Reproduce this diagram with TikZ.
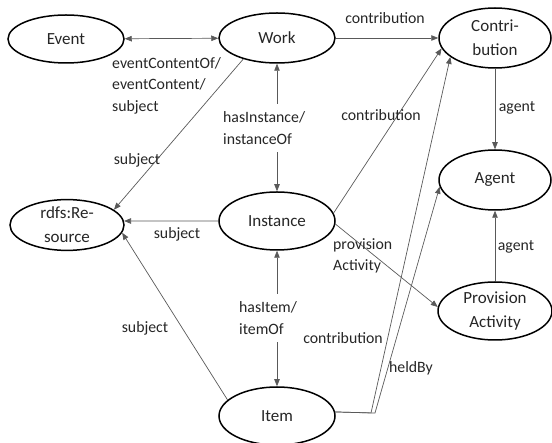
\documentclass[tikz,border=0pt]{standalone}
\usepackage{fontspec}
\setmainfont{Carlito}
\usetikzlibrary{shapes.geometric,arrows.meta}
\begin{document}
\begin{tikzpicture}[x=1pt,y=-1pt,
  ent/.style={draw, ellipse, line width=1.5pt, inner sep=0pt, align=center,
    font=\fontsize{17}{24}\selectfont, text=black!85},
  lbl/.style={font=\fontsize{15.8}{21.5}\selectfont, align=left, text=black!85, inner sep=0pt},
  tip/.tip={Triangle[length=7pt,width=5.5pt]},
  rel/.style={draw=black!65, line width=0.7pt, -tip},
  birel/.style={draw=black!65, line width=0.7pt, tip-tip}
]
\useasboundingbox (0,0) rectangle (552,443);
% entities
\node[ent, minimum width=116pt, minimum height=48pt] (event) at (66,39) {Event};
\node[ent, minimum width=116pt, minimum height=50pt] (work) at (277,38) {Work};
\node[ent, minimum width=112pt, minimum height=60pt] (contrib) at (495,38) {Contri-\\bution};
\node[ent, minimum width=112pt, minimum height=60pt] (agent) at (495,180) {Agent};
\node[ent, minimum width=114pt, minimum height=58pt] (prov) at (495,311) {Provision\\Activity};
\node[ent, minimum width=114pt, minimum height=50pt] (res) at (67,225) {rdfs:Re-\\source};
\node[ent, minimum width=116pt, minimum height=58pt] (inst) at (277,221) {Instance};
\node[ent, minimum width=116pt, minimum height=58pt] (item) at (277,416) {Item};
\coordinate (c1) at (371,413);
\coordinate (c2) at (375,413);
% connectors
\draw[birel] (event) -- (work);
\draw[rel] (work) -- (contrib);
\draw[rel] (work.212) -- (res.18);
\draw[birel] (work) -- (inst);
\draw[rel] (inst.west) -- (res.4);
\draw[birel] (inst) -- (item);
\draw[rel] (item.162) -- (res.-8);
\draw[rel] (inst.8) -- (contrib.191);
\draw[rel] (inst.-3) -- (prov.176);
\draw[rel] (contrib) -- (agent);
\draw[rel] (prov) -- (agent);
\draw[rel] (item.4) -- (c1) -- (contrib.203);
\draw[rel] (item.4) -- (c2) -- (agent.187);
% labels
\node[lbl] at (385,18) {contribution};
\node[lbl, anchor=north west] at (112,57) {eventContentOf/\\eventContent/\\subject};
\node[lbl] at (137,160) {subject};
\node[lbl, anchor=west, fill=white, inner ysep=8pt, inner xsep=1pt] at (222,128) {hasInstance/\\instanceOf};
\node[lbl] at (381,115) {contribution};
\node[lbl] at (517,108) {agent};
\node[lbl] at (177,234) {subject};
\node[lbl] at (145,328) {subject};
\node[lbl, anchor=west, fill=white, inner ysep=8pt, inner xsep=1pt] at (238,318) {hasItem/\\itemOf};
\node[lbl, anchor=west] at (333,256) {provision\\Activity};
\node[lbl] at (516,247) {agent};
\node[lbl] at (343,338) {contribution};
\node[lbl] at (411,368) {heldBy};
\end{tikzpicture}
\end{document}
